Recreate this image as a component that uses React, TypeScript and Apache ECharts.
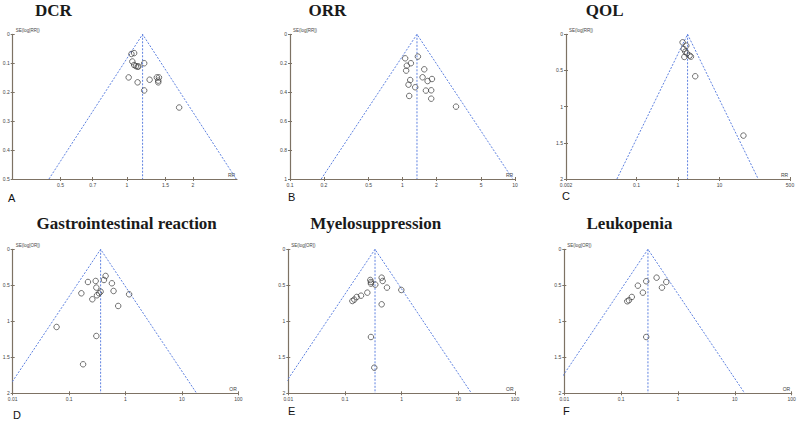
import React, { useEffect, useRef } from "react";
import * as echarts from "echarts";

// ---- data ----
const dcrRR = [1.05, 1.08, 1.06, 1.08, 1.10, 1.12, 1.13, 1.20, 1.02, 1.12, 1.27, 1.37, 1.40, 1.39, 1.39, 1.20, 1.73];
const dcrSE = [0.068, 0.065, 0.094, 0.106, 0.110, 0.112, 0.111, 0.100, 0.149, 0.166, 0.157, 0.149, 0.149, 0.160, 0.166, 0.194, 0.253];

const orrRR = [1.056, 1.37, 1.093, 1.187, 1.078, 1.561, 1.171, 1.131, 1.508, 1.671, 1.828, 1.297, 1.615, 1.80, 1.147, 1.80, 2.99];
const orrSE = [0.166, 0.154, 0.217, 0.200, 0.251, 0.242, 0.316, 0.348, 0.297, 0.323, 0.309, 0.366, 0.389, 0.387, 0.426, 0.445, 0.500];

const qolRR = [1.29, 1.585, 1.37, 1.50, 1.64, 1.905, 2.05, 1.42, 2.6, 37.7];
const qolSE = [0.111, 0.157, 0.203, 0.240, 0.263, 0.295, 0.309, 0.313, 0.58, 1.40];

const giOR = [0.444, 0.415, 0.216, 0.296, 0.574, 0.304, 0.614, 0.362, 0.339, 0.312, 0.165, 0.258, 1.16, 0.742, 0.060, 0.304, 0.177];
const giSE = [0.370, 0.426, 0.454, 0.440, 0.472, 0.532, 0.579, 0.588, 0.611, 0.639, 0.611, 0.694, 0.625, 0.787, 1.079, 1.204, 1.597];

const myeOR = [0.444, 0.462, 0.280, 0.287, 0.287, 0.343, 0.551, 0.987, 0.248, 0.192, 0.161, 0.146, 0.135, 0.444, 0.287, 0.329];
const myeSE = [0.394, 0.440, 0.426, 0.454, 0.477, 0.491, 0.532, 0.565, 0.602, 0.644, 0.662, 0.699, 0.718, 0.764, 1.218, 1.644];

const leuOR = [0.42, 0.276, 0.622, 0.197, 0.522, 0.241, 0.154, 0.137, 0.128, 0.276];
const leuSE = [0.394, 0.444, 0.454, 0.505, 0.532, 0.602, 0.662, 0.708, 0.722, 1.218];

const pooled = [1.18, 1.345, 1.70, 0.362, 0.339, 0.296];

const titles = ["DCR", "ORR", "QOL", "Gastrointestinal reaction", "Myelosuppression", "Leukopenia"];
const letters = ["A", "B", "C", "D", "E", "F"];
const xNames = ["RR", "RR", "RR", "OR", "OR", "OR"];
const yNames = ["SE(log[RR])", "SE(log[RR])", "SE(log[RR])", "SE(log[OR])", "SE(log[OR])", "SE(log[OR])"];

const xTicksA = [0.5, 0.7, 1, 1.5, 2];
const xTicksB = [0.1, 0.2, 0.5, 1, 2, 5, 10];
const xTicksC = [0.002, 0.1, 1, 10, 500];
const xTicksOR = [0.01, 0.1, 1, 10, 100];
const xMin = [0.303, 0.1, 0.002, 0.01, 0.01, 0.01];
const xMax = [3.17, 10, 500, 100, 100, 100];
const seMax = [0.5, 1, 2, 2, 2, 2];
const seStep = [0.1, 0.2, 0.5, 0.5, 0.5, 0.5];

const effects = [dcrRR, orrRR, qolRR, giOR, myeOR, leuOR];
const ses = [dcrSE, orrSE, qolSE, giSE, myeSE, leuSE];
const xTicks = [xTicksA, xTicksB, xTicksC, xTicksOR, xTicksOR, xTicksOR];

// ---- layout (pixels) ----
const grids = [
  { left: 12.7, top: 34.3, width: 224.3, height: 144.7 },
  { left: 290, top: 34.3, width: 225, height: 144.7 },
  { left: 566, top: 34.3, width: 224, height: 144.7 },
  { left: 12.7, top: 249.3, width: 225.6, height: 144 },
  { left: 288.3, top: 249.3, width: 226.7, height: 144 },
  { left: 564.3, top: 249.3, width: 227.4, height: 144 },
];
const titlePos = [[53.3, 10.5], [327.5, 10], [604.7, 10.5], [126.7, 223.3], [375.7, 223.5], [629.5, 223.5]];
const letterPos = [[8, 198], [288, 196.5], [562, 196], [13, 415], [288, 411], [563, 411.3]];

const AXIS = "#7d7264";
const BLUE = "#5f82e0";
const L10 = Math.log10;

function buildOption() {
  const grid: any[] = [];
  const xAxis: any[] = [];
  const yAxis: any[] = [];
  const series: any[] = [];
  const graphic: any[] = [];

  for (let i = 0; i < 6; i++) {
    const g = grids[i];
    grid.push({ ...g, containLabel: false, outerBoundsMode: "none" });
    const ticksLog = xTicks[i].map((t) => L10(t));
    const fmt = (v: number) => {
      const k = xTicks[i].findIndex((t) => Math.abs(L10(t) - v) < 1e-6);
      return k >= 0 ? String(xTicks[i][k]) : "";
    };
    const xBase = {
      type: "value",
      gridIndex: i,
      min: L10(xMin[i]),
      max: L10(xMax[i]),
      splitLine: { show: false },
    };
    xAxis.push({
      ...xBase,
      position: "bottom",
      name: xNames[i],
      nameLocation: "end",
      nameGap: -9,
      nameTextStyle: { fontSize: 5, color: "#444", verticalAlign: "bottom", align: "left", padding: [0, 0, 2, 0] },
      axisLine: { show: true, onZero: false, lineStyle: { color: AXIS, width: 1.2 } },
      axisTick: { show: true, customValues: ticksLog, length: 2, lineStyle: { color: AXIS } },
      axisLabel: { show: true, customValues: ticksLog, formatter: fmt, fontSize: 5, color: "#444", margin: 3, showMinLabel: true, showMaxLabel: true },
    });
    xAxis.push({
      ...xBase,
      position: "bottom",
      axisLine: { show: false, onZero: false },
      axisTick: { show: true, inside: true, customValues: ticksLog, length: 2, lineStyle: { color: AXIS } },
      axisLabel: { show: false },
    });
    const yBase = {
      type: "value",
      gridIndex: i,
      inverse: true,
      min: 0,
      max: seMax[i],
      interval: seStep[i],
      splitLine: { show: false },
    };
    yAxis.push({
      ...yBase,
      position: "left",
      name: yNames[i],
      nameLocation: "start",
      nameGap: 1,
      nameTextStyle: { fontSize: 4.5, color: "#444", align: "left", verticalAlign: "bottom", padding: [0, 0, 0, 3] },
      axisLine: { show: true, onZero: false, lineStyle: { color: AXIS, width: 1.2 } },
      axisTick: { show: true, length: 2, lineStyle: { color: AXIS } },
      axisLabel: { show: true, fontSize: 5, color: "#444", margin: 3 },
    });
    yAxis.push({
      ...yBase,
      position: "left",
      axisLine: { show: false, onZero: false },
      axisTick: { show: true, inside: true, length: 2, lineStyle: { color: AXIS } },
      axisLabel: { show: false },
    });

    const p = pooled[i];
    const m = seMax[i];
    const lo = p * Math.exp(-1.96 * m);
    const hi = p * Math.exp(1.96 * m);
    const xi = i * 2;
    const yi = i * 2;
    series.push({
      type: "line",
      xAxisIndex: xi,
      yAxisIndex: yi,
      data: [[L10(lo), m], [L10(p), 0], [L10(hi), m]],
      symbol: "none",
      clip: true,
      lineStyle: { color: BLUE, width: 1, type: [2, 1.5] },
      z: 2,
    });
    series.push({
      type: "line",
      xAxisIndex: xi,
      yAxisIndex: yi,
      data: [[L10(p), 0], [L10(p), m]],
      symbol: "none",
      clip: true,
      lineStyle: { color: BLUE, width: 1, type: [2, 1.5] },
      z: 2,
    });
    series.push({
      type: "scatter",
      xAxisIndex: xi,
      yAxisIndex: yi,
      data: effects[i].map((v, k) => [L10(v), ses[i][k]]),
      symbol: "circle",
      symbolSize: 5.5,
      itemStyle: { color: "rgba(255,255,255,0)", borderColor: "#3a3a3a", borderWidth: 0.9 },
      z: 3,
    });

    graphic.push({
      type: "text",
      x: titlePos[i][0],
      y: titlePos[i][1],
      style: {
        text: titles[i],
        font: 'bold 17px "Liberation Serif", "Times New Roman", serif',
        fill: "#1a1a1a",
        textAlign: "center",
        textVerticalAlign: "middle",
      },
    });
    graphic.push({
      type: "text",
      x: letterPos[i][0],
      y: letterPos[i][1],
      style: {
        text: letters[i],
        font: '11px "Liberation Sans", Arial, sans-serif',
        fill: "#111",
        textAlign: "left",
        textVerticalAlign: "middle",
      },
    });
  }

  return {
    animation: false,
    backgroundColor: "#ffffff",
    textStyle: { fontFamily: '"Liberation Sans", Arial, sans-serif' },
    grid,
    xAxis,
    yAxis,
    series,
    graphic,
  };
}

export default function App() {
  const ref = useRef<HTMLDivElement>(null);
  useEffect(() => {
    if (!ref.current) return;
    const chart = echarts.init(ref.current, undefined, { renderer: "svg" });
    chart.setOption(buildOption() as any);
    return () => chart.dispose();
  }, []);
  return (
    <div
      ref={ref}
      style={{ position: "fixed", left: 0, top: 0, width: 800, height: 422, background: "#fff" }}
    />
  );
}
